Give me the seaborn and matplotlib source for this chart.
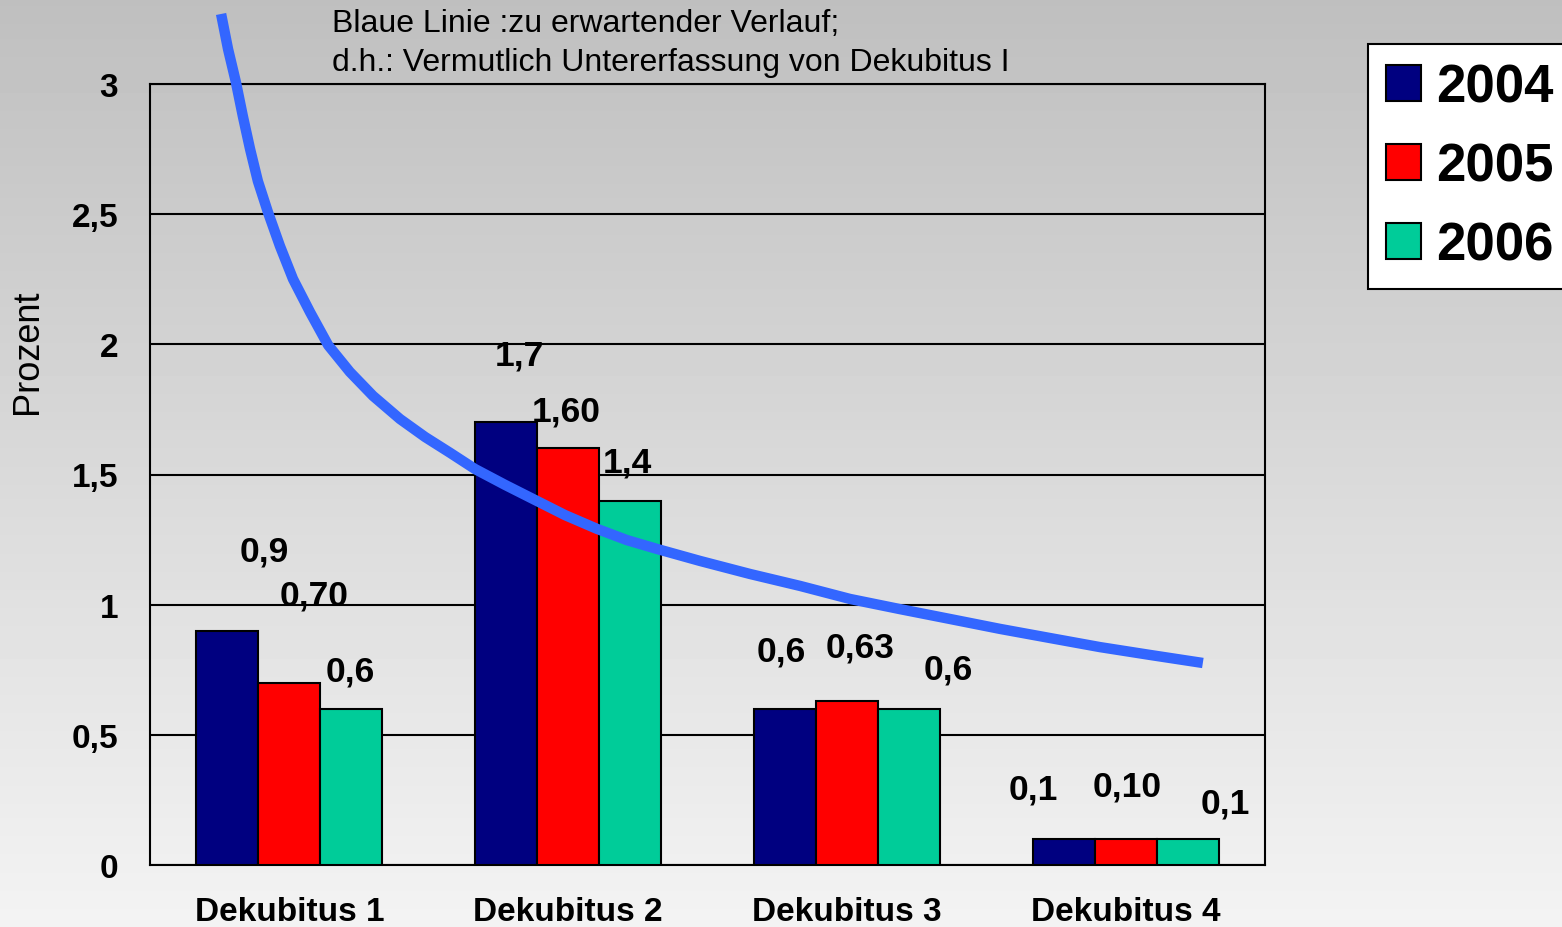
import numpy as np
import pandas as pd
import matplotlib
matplotlib.use("Agg")
import matplotlib.pyplot as plt
import seaborn as sns

# Data
kategorien = ["Dekubitus 1", "Dekubitus 2", "Dekubitus 3", "Dekubitus 4"]
jahre = ["2004", "2005", "2006"]
werte_2004 = [0.9, 1.7, 0.6, 0.1]
werte_2005 = [0.70, 1.60, 0.63, 0.10]
werte_2006 = [0.6, 1.4, 0.6, 0.1]
labels_2004 = ["0,9", "1,7", "0,6", "0,1"]
labels_2005 = ["0,70", "1,60", "0,63", "0,10"]
labels_2006 = ["0,6", "1,4", "0,6", "0,1"]

# expected course (blue line) in category units
linie_x = [-0.245, -0.220, -0.192, -0.167, -0.141, -0.113, -0.077, -0.034, 0.013,
           0.074, 0.139, 0.217, 0.300, 0.397, 0.487, 0.577, 0.666, 0.774, 0.874,
           0.989, 1.104, 1.211, 1.319, 1.473, 1.652, 1.832, 2.011, 2.190, 2.370,
           2.549, 2.728, 2.908, 3.087, 3.277]
linie_y = [3.269, 3.134, 3.008, 2.877, 2.750, 2.627, 2.508, 2.378, 2.251,
           2.124, 1.997, 1.894, 1.802, 1.713, 1.644, 1.583, 1.521, 1.460, 1.406,
           1.344, 1.291, 1.248, 1.214, 1.168, 1.118, 1.072, 1.022, 0.983, 0.945,
           0.907, 0.872, 0.837, 0.807, 0.776]

y_ticks = [0, 0.5, 1, 1.5, 2, 2.5, 3]
y_ticklabels = ["0", "0,5", "1", "1,5", "2", "2,5", "3"]

farben = ["#000080", "#ff0000", "#00cc99"]

df = pd.DataFrame({
    "Kategorie": kategorien * 3,
    "Jahr": [j for j in jahre for _ in kategorien],
    "Prozent": werte_2004 + werte_2005 + werte_2006,
})

sns.set_style("white")
plt.rcParams["font.family"] = ["Liberation Sans", "DejaVu Sans"]
plt.rcParams["text.color"] = "black"
plt.rcParams["xtick.color"] = "black"
plt.rcParams["ytick.color"] = "black"
plt.rcParams["axes.labelcolor"] = "black"

W, H = 1562, 928
fig = plt.figure(figsize=(W / 100, H / 100), dpi=100)

# gray gradient background
bg = fig.add_axes([0, 0, 1, 1], zorder=-1)
grad = np.linspace(191, 243, 256).reshape(-1, 1)
bg.imshow(grad, aspect="auto", cmap="gray", vmin=0, vmax=255)
bg.axis("off")

L, R, T, B = 150, 1265, 85, 866
ax = fig.add_axes([L / W, 1 - B / H, (R - L) / W, (B - T) / H])
ax.set_facecolor("none")

sns.barplot(data=df, x="Kategorie", y="Prozent", hue="Jahr", palette=farben,
            width=0.667, saturation=1, edgecolor="black", linewidth=1.5,
            ax=ax, zorder=3)

handles, labels = ax.get_legend_handles_labels()
ax.get_legend().remove()

# value labels, offsets in pixels (dx, dy above bar top)
label_sets = [labels_2004, labels_2005, labels_2006]
offsets = [
    [(37, 80), (13, 67), (-4, 58), (-30, 50)],
    [(25, 88), (-2, 37), (13, 54), (2, 53)],
    [(-1, 38), (-3, 39), (39, 40), (38, 36)],
]
for cont, labs, offs in zip(ax.containers, label_sets, offsets):
    for bar, lab, (dx, dy) in zip(cont, labs, offs):
        xc = bar.get_x() + bar.get_width() / 2
        ax.annotate(lab, (xc, bar.get_height()), xytext=(dx * 0.72, dy * 0.72),
                    textcoords="offset points", ha="center", va="center",
                    fontsize=25.5, fontweight="bold", zorder=5)

sns.lineplot(x=linie_x, y=linie_y, sort=False, estimator=None, color="#3366ff",
             linewidth=7.5, ax=ax, zorder=4, legend=False)
for ln in ax.get_lines():
    ln.set_clip_on(False)
    ln.set_solid_capstyle("butt")
    ln.set_solid_joinstyle("round")

ax.set_xlim(-0.5, 3.5)
ax.set_ylim(0, 3)
ax.set_yticks(y_ticks)
ax.set_yticklabels(y_ticklabels, fontsize=24, fontweight="bold")
ax.set_xticks(range(4))
ax.set_xticklabels(kategorien, fontsize=24, fontweight="bold")
ax.set_xticks([-0.5, 0.5, 1.5, 2.5, 3.5], minor=True)
ax.tick_params(axis="x", which="major", length=0, pad=22)
ax.tick_params(axis="x", which="minor", length=7, width=1.5, direction="out", color="black")
ax.tick_params(axis="y", length=7, width=1.5, direction="out", color="black", pad=16)
ax.grid(axis="y", color="black", linewidth=1.5, zorder=1)
ax.set_axisbelow(True)
for s in ax.spines.values():
    s.set_color("black")
    s.set_linewidth(1.5)
ax.set_xlabel("")
ax.set_ylabel("")

fig.text(28 / W, 1 - 352 / H, "Prozent", rotation=90, ha="center", va="center", fontsize=26)
fig.text(332 / W, 1 - 9 / H, "Blaue Linie :zu erwartender Verlauf;\nd.h.: Vermutlich Untererfassung von Dekubitus I",
         ha="left", va="top", fontsize=23, linespacing=1.38)

leg = fig.legend(handles, labels, loc="upper left", bbox_to_anchor=(1368 / W, 1 - 45 / H),
                 bbox_transform=fig.transFigure, frameon=True, fancybox=False,
                 prop={"size": 38, "weight": "bold"}, handlelength=0.65, handleheight=0.65,
                 handletextpad=0.3, labelspacing=0.55, borderpad=0.35, borderaxespad=0)
leg.get_frame().set_edgecolor("black")
leg.get_frame().set_linewidth(1.5)
leg.get_frame().set_facecolor("white")
leg.get_frame().set_alpha(1)

fig.savefig("out.png", dpi=100)
